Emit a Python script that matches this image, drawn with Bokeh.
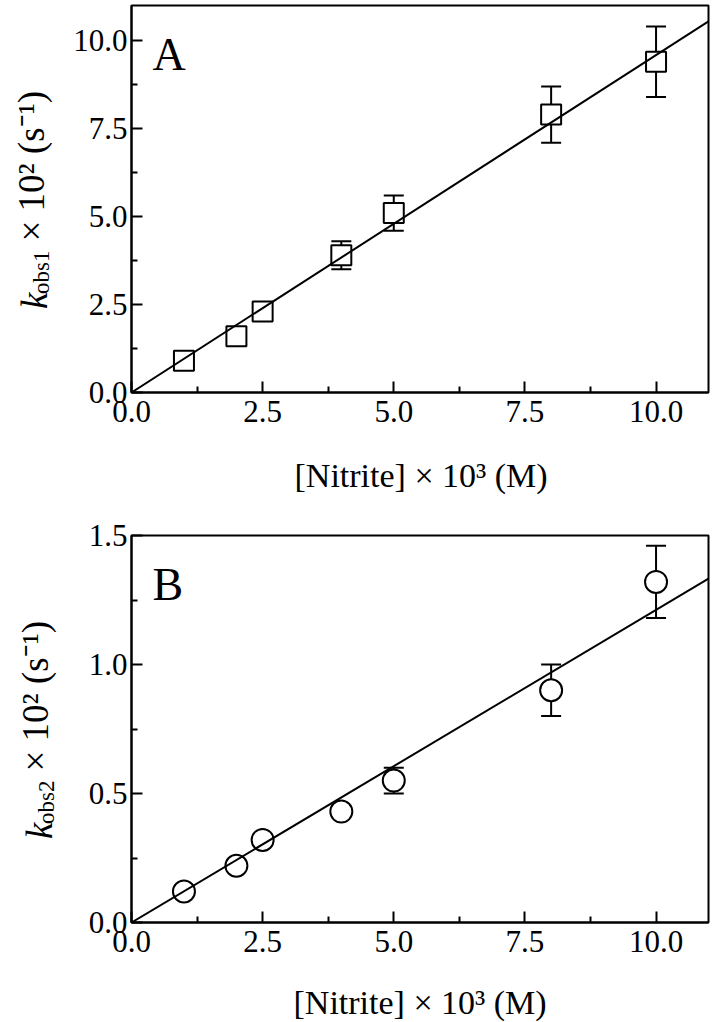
import numpy as np
from bokeh.plotting import figure
from bokeh.models import (ColumnDataSource, FixedTicker, PrintfTickFormatter,
                          Whisker, TeeHead, Label, Range1d)
from bokeh.layouts import column
from bokeh.embed import file_html
from bokeh.resources import INLINE

# ---------------- data ----------------
nitrite = [1, 2, 2.5, 4, 5, 8, 10]
kobs1 = [0.9, 1.6, 2.3, 3.9, 5.1, 7.9, 9.4]
kobs1_err = [0, 0, 0, 0.4, 0.5, 0.8, 1.0]
kobs2 = [0.12, 0.22, 0.32, 0.43, 0.55, 0.90, 1.32]
kobs2_err = [0, 0, 0, 0, 0.05, 0.10, 0.14]
fit_x = [0, 11]
fit1_y = [0, 10.55]
fit2_y = [0, 1.333]

x_ticks = [0, 2.5, 5, 7.5, 10]
x_minor = [1.25, 3.75, 6.25, 8.75]
y1_ticks = [0, 2.5, 5, 7.5, 10]
y1_minor = [1.25, 3.75, 6.25, 8.75]
y2_ticks = [0, 0.5, 1.0, 1.5]
y2_minor = [0.25, 0.75, 1.25]

x_label = "[Nitrite] × 10³ (M)"
y_tail = "× 10² (s⁻¹)"

FONT = "Liberation Serif"
FIG_W = 712
OFF = 0.337     # baseline offset of Bokeh text anchor (fraction of font size)
HF = 1.107      # font height factor (ascent + descent)
TICK_PX = 31
YL_PX = 37
SUB_PX = 23
XL_PX = 34


def mk_label(text, size, style, angle, x, y):
    return Label(x=x, y=y, x_units="screen", y_units="screen", text=text, angle=angle,
                 text_font=FONT, text_font_size=f"{size}px", text_font_style=style,
                 text_color="black", text_align="left", text_baseline="alphabetic")


def make_panel(height, b_top, b_bottom, b_left, b_right, ymax, yticks, yminor, y, yerr,
               fit_y, marker, msize, sub, letter, tick_w, ybase, xl_start, xl_base):
    p = figure(width=FIG_W, height=height, x_range=Range1d(0, 11), y_range=Range1d(0, ymax),
               output_backend="svg", toolbar_location=None,
               min_border_left=b_left, min_border_right=b_right,
               min_border_top=b_top, min_border_bottom=b_bottom,
               background_fill_color="white", border_fill_color="white")
    p.grid.visible = False
    p.outline_line_color = "black"
    p.outline_line_width = 2
    p.outline_line_alpha = 1.0
    for ax in (p.xaxis[0], p.yaxis[0]):
        ax.axis_line_width = 2
        ax.axis_line_color = "black"
        ax.major_tick_in = 11
        ax.major_tick_out = 0
        ax.minor_tick_in = 6
        ax.minor_tick_out = 0
        ax.major_tick_line_width = 2
        ax.minor_tick_line_width = 2
        ax.major_tick_line_color = "black"
        ax.minor_tick_line_color = "black"
        ax.major_label_text_font = FONT
        ax.major_label_text_font_size = f"{TICK_PX}px"
        ax.major_label_text_color = "black"
        ax.formatter = PrintfTickFormatter(format="%.1f")
        ax.axis_label = None
    p.xaxis[0].ticker = FixedTicker(ticks=x_ticks, minor_ticks=x_minor)
    p.yaxis[0].ticker = FixedTicker(ticks=yticks, minor_ticks=yminor)
    p.xaxis[0].major_label_standoff = 8
    p.yaxis[0].major_label_standoff = 4

    # error bars
    ex = [xx for xx, e in zip(nitrite, yerr) if e > 0]
    lo = [yy - e for yy, e in zip(y, yerr) if e > 0]
    hi = [yy + e for yy, e in zip(y, yerr) if e > 0]
    esrc = ColumnDataSource(dict(x=ex, lower=lo, upper=hi))
    wh = Whisker(base="x", lower="lower", upper="upper", source=esrc,
                 line_width=2, line_color="black", level="underlay",
                 upper_head=TeeHead(size=20, line_width=2, line_color="black"),
                 lower_head=TeeHead(size=20, line_width=2, line_color="black"))
    p.add_layout(wh)

    src = ColumnDataSource(dict(x=nitrite, y=y))
    p.scatter("x", "y", source=src, marker=marker, size=msize, line_color="black",
              line_width=2, fill_color="white")
    p.line(fit_x, fit_y, line_color="black", line_width=2)

    # frame geometry (figure pixels)
    L, T = b_left, b_top
    B = height - b_bottom
    frame_h = B - T

    # panel letter (inside frame)
    p.add_layout(mk_label(letter, 46, "normal", 0, 21, frame_h - 65 + OFF * 46))

    # ---- side panel stacks (from frame outward) ----
    Wa = 4 + tick_w                       # left axis width
    w_tail = round(HF * YL_PX)
    w_sub = round(HF * SUB_PX)
    Ha = 8 + HF * TICK_PX                 # bottom axis height (estimate)
    h_xl = round(HF * XL_PX)
    h_k = round(0.444 * YL_PX)

    left1_l = L - Wa - w_tail
    left2_l = left1_l - w_sub
    below1_b = B + Ha + h_xl - 12         # measured correction
    below2_b = B + Ha + h_xl + h_k - 9    # measured correction

    # y label pieces along a vertical baseline
    w_k = 0.444 * YL_PX + 1
    w_s = 1.889 * SUB_PX + 9
    w_t = 4.35 * YL_PX
    total = w_k + w_s + w_t
    start = (T + B) / 2.0 + total / 2.0 - 3
    rot = np.pi / 2

    # tail: left panel #1
    sx = ybase - OFF * YL_PX
    sy = start - w_k - w_s
    p.add_layout(mk_label(y_tail, YL_PX, "normal", rot, sx - left1_l, B - sy), "left")
    # subscript: left panel #2
    sx = ybase + 6 - OFF * SUB_PX
    sy = start - w_k
    p.add_layout(mk_label(sub, SUB_PX, "normal", rot, sx - left2_l, B - sy), "left")

    # x label: below panel #1
    sx = xl_start
    sy = xl_base - OFF * XL_PX
    p.add_layout(mk_label(x_label, XL_PX, "normal", 0, sx - L, below1_b - sy), "below")
    # italic k: below panel #2
    sx = ybase - OFF * YL_PX
    sy = start
    p.add_layout(mk_label("k", YL_PX, "italic", rot, sx - L, below2_b - sy), "below")
    return p


pA = make_panel(515, 5, 123, 127, 4, 11.0, y1_ticks, y1_minor, kobs1, kobs1_err, fit1_y,
                "square", 20, "obs1", "A", 1.75 * TICK_PX, 42, 290, 486)
pB = make_panel(507, 20, 100, 131, 2, 1.5, y2_ticks, y2_minor, kobs2, kobs2_err, fit2_y,
                "circle", 22, "obs2", "B", 1.25 * TICK_PX, 51, 293, 498)

layout = column(pA, pB, spacing=0)
open("out.html", "w").write(file_html(layout, INLINE))
